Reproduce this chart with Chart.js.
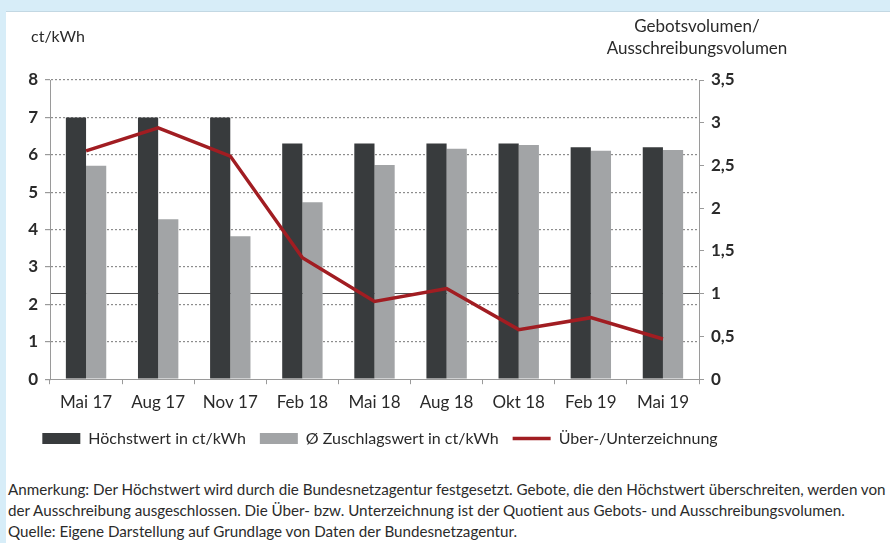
<!DOCTYPE html>
<html>
<head>
<meta charset="utf-8">
<script src="https://cdn.jsdelivr.net/npm/chart.js@4/dist/chart.umd.min.js"></script>
<style>
  html, body { margin: 0; padding: 0; }
  body { width: 890px; height: 543px; background: #d7edf8; position: relative; overflow: hidden; font-family: Lato, "Open Sans", sans-serif; }
  #panel { position: absolute; left: 6px; top: 11px; right: 0; bottom: 0; background: #fff; border-top: 1px solid #c3d8e3; }
  #wrap { position: absolute; left: 0; top: 0; width: 890px; height: 470px; }
  #note { position: absolute; left: 8px; top: 479px; width: 882px; font-size: 15.2px; line-height: 21px; color: #2b2b2b; white-space: nowrap; }
</style>
</head>
<body>
<div id="panel"></div>
<div id="wrap"><canvas id="myChart"></canvas></div>
<div id="note">
  Anmerkung: Der Höchstwert wird durch die Bundesnetzagentur festgesetzt. Gebote, die den Höchstwert überschreiten, werden von<br>
  der Ausschreibung ausgeschlossen. Die Über- bzw. Unterzeichnung ist der Quotient aus Gebots- und Ausschreibungsvolumen.<br>
  Quelle: Eigene Darstellung auf Grundlage von Daten der Bundesnetzagentur.
</div>
<script>
var rounds          = ['Mai 17', 'Aug 17', 'Nov 17', 'Feb 18', 'Mai 18', 'Aug 18', 'Okt 18', 'Feb 19', 'Mai 19'];
var hoechstwert     = [7.0, 7.0, 7.0, 6.3, 6.3, 6.3, 6.3, 6.2, 6.2];
var zuschlagswert   = [5.71, 4.28, 3.82, 4.73, 5.73, 6.16, 6.26, 6.11, 6.13];
var zeichnung       = [2.67, 2.94, 2.61, 1.42, 0.91, 1.06, 0.58, 0.72, 0.47];

var left_title  = 'ct/kWh';
var right_title = ['Gebotsvolumen/', 'Ausschreibungsvolumen'];

var textColor = '#2a2a2a';
var axisColor = '#9a9a9a';

function comma(v){
    return String(v).replace('.', ',');
}

// axis titles sit horizontally above both axes
var axisTitles = {
    id: 'axisTitles',
    afterDraw: function(chart){
        var ctx = chart.ctx;
        var area = chart.chartArea;
        ctx.save();
        ctx.fillStyle = textColor;
        ctx.textBaseline = 'middle';
        ctx.textAlign = 'left';
        ctx.font = '16px Lato, sans-serif';
        ctx.fillText(left_title, 31, 37);
        ctx.textAlign = 'center';
        ctx.font = '17px Lato, sans-serif';
        ctx.fillText(right_title[0], area.right - 2, 27);
        ctx.fillText(right_title[1], area.right - 2, 49);
        ctx.restore();
    }
};

var data = {
    labels: rounds,
    datasets: [
        {
            type: 'bar',
            label: 'Höchstwert in ct/kWh',
            backgroundColor: '#383b3d',
            data: hoechstwert,
            yAxisID: 'y',
            order: 2,
            pointStyle: 'rect'
        },
        {
            type: 'bar',
            label: 'Ø Zuschlagswert in ct/kWh',
            backgroundColor: '#a2a4a6',
            data: zuschlagswert,
            yAxisID: 'y',
            order: 2,
            pointStyle: 'rect'
        },
        {
            type: 'line',
            label: 'Über-/Unterzeichnung',
            borderColor: '#a11d22',
            backgroundColor: '#a11d22',
            borderWidth: 3.5,
            pointRadius: 0,
            tension: 0,
            data: zeichnung,
            yAxisID: 'y1',
            order: 1,
            pointStyle: 'line'
        }
    ]
};

var config = {
    type: 'bar',
    data: data,
    plugins: [axisTitles],
    options: {
        responsive: true,
        maintainAspectRatio: false,
        animation: false,
        datasets: {
            bar: { categoryPercentage: 0.56, barPercentage: 1.0 }
        },
        // negative left padding widens the legend row so it stays on one line
        layout: { padding: { left: -70, right: 60, top: 80, bottom: 13.4 } },
        plugins: {
            tooltip: { enabled: false },
            legend: {
                position: 'bottom',
                labels: {
                    usePointStyle: true,
                    pointStyleWidth: 38,
                    boxHeight: 11,
                    padding: 14,
                    color: textColor,
                    font: { family: 'Lato, sans-serif', size: 16 },
                    sort: function(a, b){ return a.datasetIndex - b.datasetIndex; }
                }
            }
        },
        scales: {
            x: {
                offset: true,
                afterFit: function(scale){ scale.height = 37.4; },
                grid: { offset: true, drawOnChartArea: false, tickLength: 5, color: axisColor },
                border: { color: axisColor },
                ticks: { color: textColor, padding: 8, font: { family: 'Lato, sans-serif', size: 17 } }
            },
            y: {
                min: 0,
                max: 8,
                afterFit: function(scale){ scale.width = 120; },
                ticks: { stepSize: 1, color: textColor, padding: 7, font: { family: 'Lato, sans-serif', size: 17, weight: 'bold' } },
                grid: {
                    color: function(ctx){ return ctx.tick && ctx.tick.value === 0 ? 'transparent' : '#8d8d8d'; },
                    tickColor: axisColor,
                    tickLength: 5,
                    lineWidth: 1.2
                },
                border: { color: axisColor, dash: [2, 2] }
            },
            y1: {
                position: 'right',
                min: 0,
                max: 3.5,
                afterFit: function(scale){ scale.width = 131; },
                ticks: { stepSize: 0.5, color: textColor, padding: 7, callback: comma, font: { family: 'Lato, sans-serif', size: 17, weight: 'bold' } },
                grid: {
                    color: function(ctx){ return ctx.tick && ctx.tick.value === 1 ? '#555555' : 'transparent'; },
                    tickColor: axisColor,
                    tickLength: 5
                },
                border: { color: axisColor }
            }
        }
    }
};

var myChart = new Chart(
    document.getElementById('myChart'),
    config
);
</script>
</body>
</html>
